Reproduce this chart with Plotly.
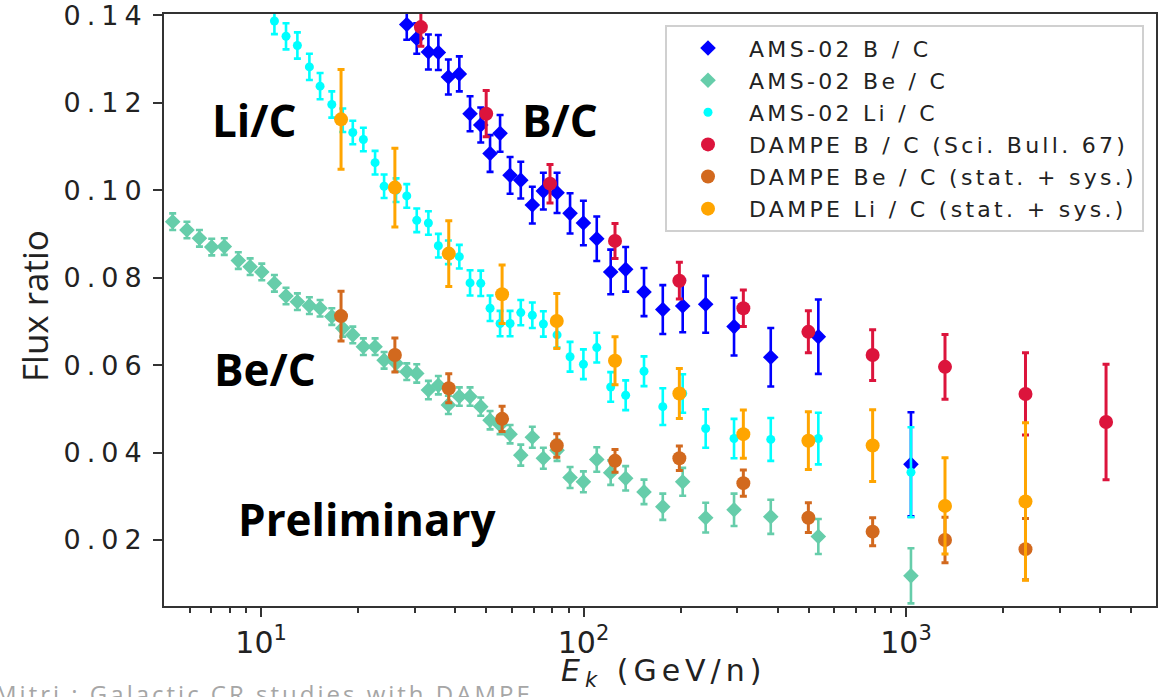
import math
import plotly.graph_objects as go

# ---------------- data ----------------
ams_be_e = [5.32, 5.89, 6.44, 7.03, 7.69, 8.50, 9.25, 10.05, 11.0, 11.95, 12.96, 14.12,
            15.24, 16.57, 17.92, 19.25, 20.76, 22.57, 24.07, 26.22, 28.30, 30.39, 33.03,
            35.46, 38.09, 41.19, 44.47, 48.0, 51.3, 55.1, 59.18, 63.88, 69.37, 75.06,
            82.77, 90.82, 99.9, 109.9, 121.4, 135.1, 154.0, 176.1, 203.0, 239.2, 292.9,
            380.7, 534.7, 1036]
ams_be_v = [0.0928, 0.0909, 0.0890, 0.0870, 0.0871, 0.0839, 0.0825, 0.0813, 0.0787, 0.0758,
            0.0745, 0.0736, 0.0730, 0.0711, 0.0684, 0.0669, 0.0642, 0.0642, 0.0611, 0.0604,
            0.0585, 0.0581, 0.0543, 0.0554, 0.0509, 0.0528, 0.0528, 0.0505, 0.0474, 0.0463,
            0.0442, 0.0394, 0.0435, 0.0387, 0.0405, 0.0343, 0.0333, 0.0384, 0.0354, 0.0341,
            0.0310, 0.0276, 0.0333, 0.0251, 0.0269, 0.0253, 0.0208, 0.0118]
ams_be_err = [0.0019] * 21 + [0.0021] * 10 + [0.0024] * 6 + [0.0028] * 4 + \
             [0.0030, 0.0032, 0.0034, 0.0037, 0.0039, 0.0040, 0.0063]

ams_li_e = [11.0, 11.95, 12.96, 14.12, 15.24, 16.57, 17.92, 19.25, 20.76, 22.57, 24.07,
            26.22, 28.30, 30.39, 33.03, 35.46, 38.09, 41.19, 44.47, 48.0, 51.3, 55.1,
            59.18, 63.88, 69.37, 75.06, 82.77, 90.82, 99.9, 109.9, 121.4, 135.1, 154.0,
            176.1, 203.0, 239.2, 292.9, 380.7, 534.7, 1036]
ams_li_v = [0.1387, 0.1352, 0.1331, 0.1282, 0.1238, 0.1196, 0.1160, 0.1132, 0.1116, 0.1063,
            0.1009, 0.1000, 0.0987, 0.0931, 0.0925, 0.0873, 0.0858, 0.0848, 0.0788, 0.0787,
            0.0730, 0.0695, 0.0695, 0.0720, 0.0714, 0.0694, 0.0669, 0.0619, 0.0602, 0.0640,
            0.0550, 0.0531, 0.0586, 0.0505, 0.0535, 0.0455, 0.0432, 0.0430, 0.0432, 0.0355]
ams_li_err = [0.0030] * 6 + [0.0027] * 12 + [0.0029] * 9 + [0.0034] * 6 + \
             [0.0042, 0.0044, 0.0044, 0.0045, 0.0049, 0.0059, 0.0103]

ams_bc_e = [28.30, 30.39, 33.03, 35.46, 38.09, 41.19, 44.47, 48.0, 51.3, 55.1, 59.18,
            63.88, 69.37, 75.06, 82.77, 90.82, 99.9, 109.9, 121.4, 135.1, 154.0, 176.1,
            203.0, 239.2, 292.9, 380.7, 534.7, 1036]
ams_bc_v = [0.1379, 0.1347, 0.1316, 0.1315, 0.1259, 0.1266, 0.1175, 0.1149, 0.1084, 0.1130,
            0.1034, 0.1023, 0.0966, 0.0998, 0.0994, 0.0947, 0.0925, 0.0889, 0.0813, 0.0819,
            0.0767, 0.0727, 0.0735, 0.0739, 0.0688, 0.0618, 0.0665, 0.0373]
ams_bc_err = [0.0035] * 2 + [0.0040] * 6 + [0.0042] * 6 + [0.0046] * 2 + [0.0051] * 4 + \
             [0.0055, 0.0056, 0.0060, 0.0065, 0.0066, 0.0067, 0.0085, 0.0119]

dampe_bc_e = [31.3, 49.9, 78.7, 125.2, 198.2, 313, 498, 788, 1321, 2347, 4172]
dampe_bc_v = [0.1373, 0.1175, 0.1015, 0.0884, 0.0793, 0.0730, 0.0676, 0.0623, 0.0596, 0.0534, 0.0470]
dampe_bc_err = [0.0044, 0.0053, 0.0044, 0.0040, 0.0042, 0.0042, 0.0048, 0.0058, 0.0074, 0.0094, 0.0132]

dampe_e = [17.7, 26.0, 38.2, 55.9, 82.6, 125.2, 198.2, 313, 498, 788, 1321, 2347]
dampe_be_v = [0.0712, 0.0623, 0.0547, 0.0477, 0.0416, 0.0381, 0.0387, 0.0330, 0.0251, 0.0219, 0.0200, 0.0179]
dampe_be_err = [0.0057, 0.0039, 0.0033, 0.0029, 0.0027, 0.0026, 0.0028, 0.0030, 0.0034, 0.0032, 0.0052, 0.0070]
dampe_li_v = [0.1162, 0.1006, 0.0855, 0.0762, 0.0701, 0.0610, 0.0535, 0.0442, 0.0427, 0.0416, 0.0278, 0.0288]
dampe_li_err = [0.0114, 0.0090, 0.0075, 0.0067, 0.0063, 0.0055, 0.0057, 0.0055, 0.0066, 0.0082, 0.0110, 0.0180]

y_ticks = [0.02, 0.04, 0.06, 0.08, 0.10, 0.12, 0.14]
x_ticks = [10, 100, 1000]
x_ticktext = ["10<sup>1</sup>", "10<sup>2</sup>", "10<sup>3</sup>"]
x_minor = [6, 7, 8, 9, 20, 30, 40, 50, 60, 70, 80, 90,
           200, 300, 400, 500, 600, 700, 800, 900, 2000, 3000, 4000, 5000]

series = [
    ("AMS-02 B / C", ams_bc_e, ams_bc_v, ams_bc_err, "#0000ff", "diamond", 12, 2.6),
    ("AMS-02 Be / C", ams_be_e, ams_be_v, ams_be_err, "#66cdaa", "diamond", 12, 2.6),
    ("AMS-02 Li / C", ams_li_e, ams_li_v, ams_li_err, "#00ffff", "circle", 9, 2.6),
    ("DAMPE B / C (Sci. Bull. 67)", dampe_bc_e, dampe_bc_v, dampe_bc_err, "#dc143c", "circle", 14, 3),
    ("DAMPE Be / C (stat. + sys.)", dampe_e, dampe_be_v, dampe_be_err, "#d2691e", "circle", 14, 3),
    ("DAMPE Li / C (stat. + sys.)", dampe_e, dampe_li_v, dampe_li_err, "#ffa500", "circle", 14, 3),
]

fig = go.Figure()
for name, xs, ys, es, col, sym, size, lw in series:
    fig.add_trace(go.Scatter(
        x=xs, y=ys, mode="markers",
        name='<span style="font-size:22px;letter-spacing:3.3px">' + name + '</span>',
        marker=dict(color=col, symbol=sym, size=size, line=dict(width=0)),
        error_y=dict(type="data", array=es, visible=True, color=col,
                     thickness=lw, width=3.5),
        cliponaxis=True,
    ))

W, H = 1162, 697
L, R, T, B = 164, 6, 14, 91
pw, ph = W - L - R, H - T - B


def px(xp):
    return (xp - L) / pw


def py(yp):
    return (H - B - yp) / ph


ytext = ['<span style="letter-spacing:6px">%.2f</span>' % v for v in y_ticks]

fig.update_layout(
    width=W, height=H,
    margin=dict(l=L, r=R, t=T, b=B, autoexpand=False),
    paper_bgcolor="white", plot_bgcolor="white",
    showlegend=True,
    legend=dict(x=px(665), y=py(25), xanchor="left", yanchor="top",
                bgcolor="white", bordercolor="#d0d0d0", borderwidth=2,
                font=dict(family="DejaVu Sans", size=22.4, color="#222222"),
                itemwidth=72, tracegroupgap=0),
    xaxis=dict(type="log", range=[math.log10(5.0), math.log10(5960)],
               tickmode="array", tickvals=x_ticks, ticktext=x_ticktext,
               ticks="outside", ticklen=9, tickwidth=2, tickcolor="#333333",
               showline=True, linecolor="#333333", linewidth=2, mirror=True,
               showgrid=False, zeroline=False,
               tickfont=dict(family="DejaVu Sans", size=30, color="#222222"),
               minor=dict(tickmode="array", tickvals=x_minor, ticks="outside",
                          ticklen=5, tickwidth=1.5, tickcolor="#333333", showgrid=False)),
    yaxis=dict(range=[0.0049, 0.1403], tickmode="array", tickvals=y_ticks, ticktext=ytext,
               ticks="outside", ticklen=9, tickwidth=2, tickcolor="#333333",
               showline=True, linecolor="#333333", linewidth=2, mirror=True,
               showgrid=False, zeroline=False, ticklabeloverflow="allow",
               tickfont=dict(family="DejaVu Sans", size=27, color="#222222")),
)

big = dict(family="Open Sans", size=44, color="black", weight="bold")
for txt, xx, yy in [("Li/C", 254.5, 120), ("B/C", 560, 120), ("Be/C", 265, 369),
                    ("Preliminary", 367, 519)]:
    fig.add_annotation(text="<b>%s</b>" % txt, xref="paper", yref="paper",
                       x=px(xx), y=py(yy), xanchor="center", yanchor="middle",
                       showarrow=False, font=big)

fig.add_annotation(text="Flux ratio", xref="paper", yref="paper", x=px(34), y=py(306),
                   xanchor="center", yanchor="middle", textangle=-90, showarrow=False,
                   font=dict(family="Open Sans", size=35, color="#222222"))
fig.add_annotation(text='<span style="letter-spacing:5px"><i>E</i><sub><i>k</i></sub> (GeV/n)</span>',
                   xref="paper", yref="paper",
                   x=px(663), y=py(672), xanchor="center", yanchor="middle", showarrow=False,
                   font=dict(family="DejaVu Sans", size=30, color="#222222"))
fig.add_annotation(text='<span style="letter-spacing:3px">Mitri : Galactic CR studies with DAMPE</span>',
                   xref="paper", yref="paper",
                   x=px(535), y=py(675), xanchor="right", yanchor="top", showarrow=False,
                   font=dict(family="Open Sans", size=24, color="#a6a6a6"))

fig.write_html("out.html")
